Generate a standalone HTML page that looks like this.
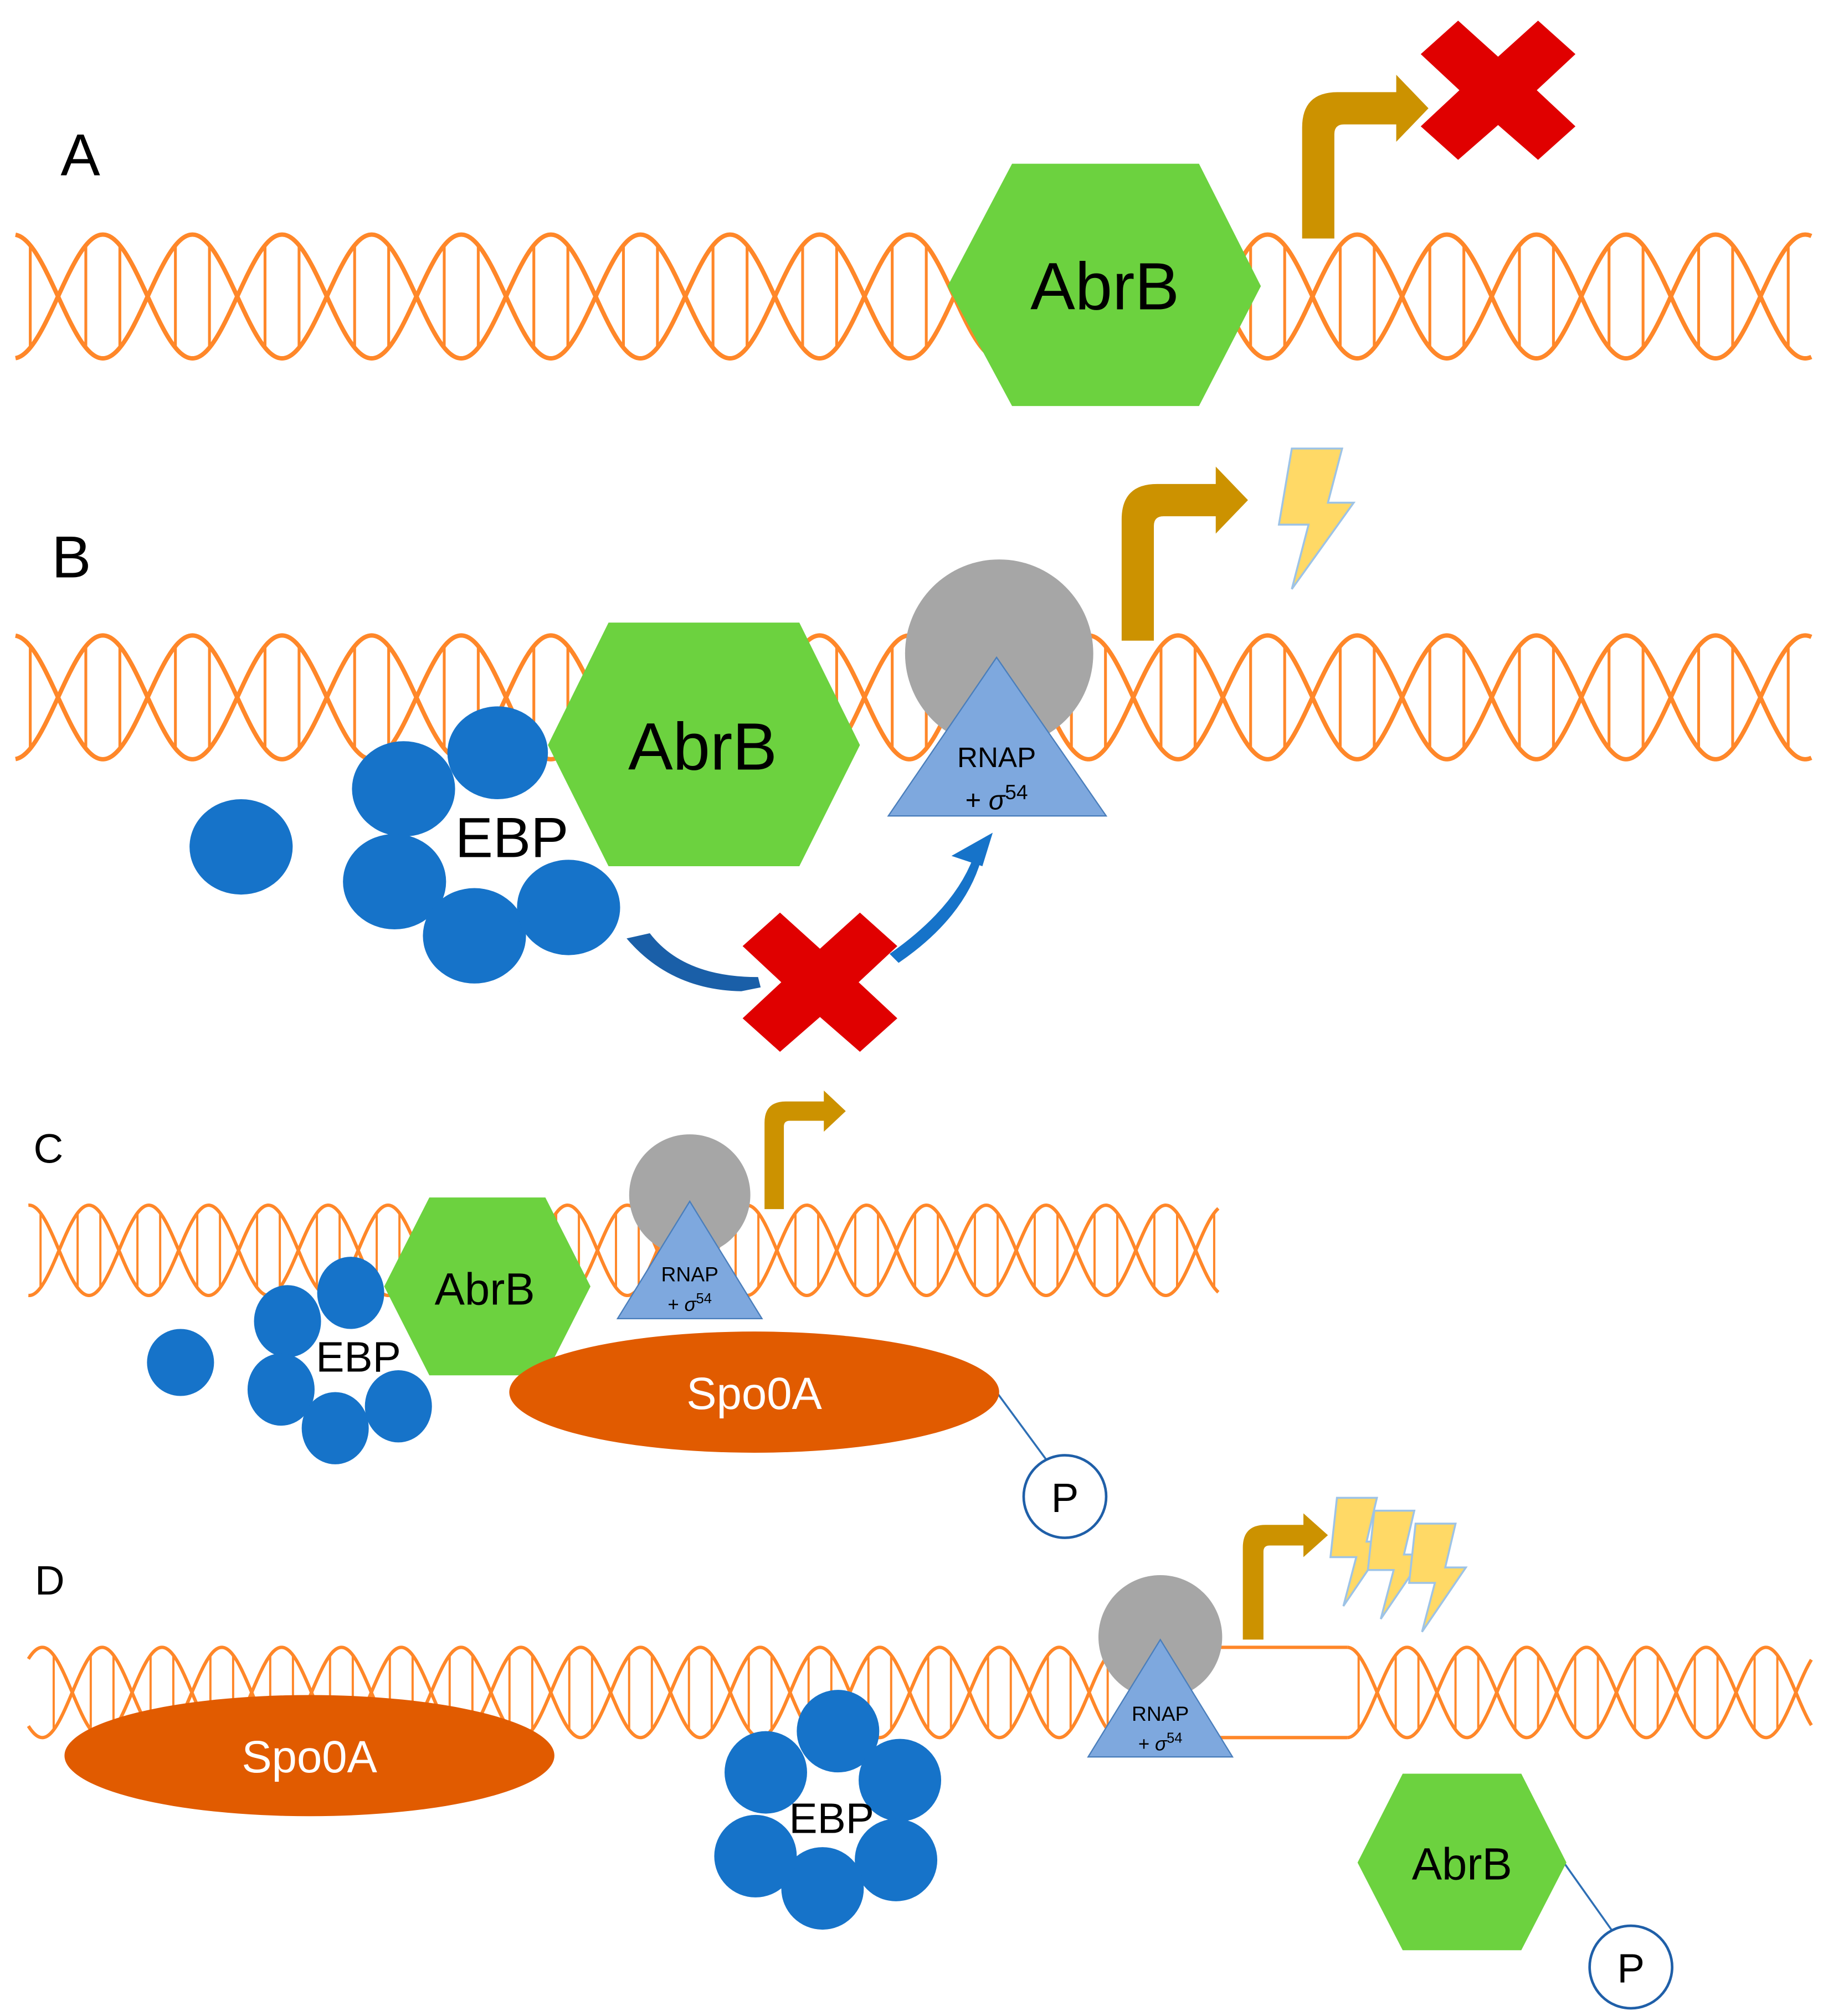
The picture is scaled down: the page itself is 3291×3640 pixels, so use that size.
<!DOCTYPE html>
<html><head><meta charset="utf-8"><style>
html,body{margin:0;padding:0;background:#fff;}
svg{display:block;}
text{font-family:"Liberation Sans",sans-serif;}
</style></head><body>
<svg id="s" width="3291" height="3640" viewBox="0 0 1414 1564" xmlns="http://www.w3.org/2000/svg">
<rect width="1414" height="1564" fill="#fff"/>
<g id="dna" fill="none" stroke="#ff8729"></g>

<!-- Panel A -->
<text x="47" y="136" font-size="46">A</text>
<polygon points="735,222 785,127 930,127 978,222 930,315 785,315" fill="#6cd23f"/>
<text x="857" y="240" font-size="52" text-anchor="middle">AbrB</text>
<path id="arA" fill="#cc9200"/>
<polygon fill="#e00000" points="1162,44 1131,16 1102,42 1132,70 1102,98 1131,124 1162,97 1193,124 1222,98 1192,70 1222,42 1193,16"/>

<!-- Panel B -->
<text x="40" y="448" font-size="46">B</text>
<ellipse cx="187" cy="657" rx="40" ry="37" fill="#1673c9"/>
<ellipse cx="386" cy="584" rx="39" ry="36" fill="#1673c9"/>
<ellipse cx="313" cy="612" rx="40" ry="37" fill="#1673c9"/>
<ellipse cx="306" cy="684" rx="40" ry="37" fill="#1673c9"/>
<ellipse cx="368" cy="726" rx="40" ry="37" fill="#1673c9"/>
<ellipse cx="441" cy="704" rx="40" ry="37" fill="#1673c9"/>
<text x="397" y="665" font-size="44" text-anchor="middle">EBP</text>
<polygon points="425,578 472,483 620,483 667,578 620,672 472,672" fill="#6cd23f"/>
<text x="545" y="597" font-size="52" text-anchor="middle">AbrB</text>
<circle cx="775" cy="507" r="73" fill="#a6a6a6"/>
<polygon points="689,633 773,510 858,633" fill="#7ea8de" stroke="#4a7ebb" stroke-width="1"/>
<text x="773" y="595" font-size="22" text-anchor="middle">RNAP</text>
<text x="773" y="628" font-size="21" text-anchor="middle" font-family="Liberation Serif">+ <tspan font-style="italic">σ</tspan><tspan dy="-8" font-size="16">54</tspan></text>
<path id="arB" fill="#cc9200"/>
<path d="M486,728 Q520,768 575,769 L590,766 L588,758 Q530,758 504,724 Z" fill="#1a5fa8"/>
<path d="M690,740 Q740,705 755,665 L761,667 Q748,712 697,747 Z" fill="#1673c9"/>
<polygon points="770,646 738,664 762,672" fill="#1673c9"/>
<polygon fill="#e00000" points="636,736 605,708 576,734 606,762 576,790 605,816 636,789 667,816 696,790 666,762 696,734 667,708"/>
<polygon fill="#ffd966" stroke="#9dc3e6" stroke-width="1.5" points="1002,348 1041,348 1030,390 1050,390 1002,457 1015,407 992,407"/>

<!-- Panel C -->
<text x="26" y="902" font-size="32">C</text>
<circle cx="140" cy="1057" r="26" fill="#1673c9"/>
<ellipse cx="272" cy="1003" rx="26" ry="28" fill="#1673c9"/>
<ellipse cx="223" cy="1025" rx="26" ry="28" fill="#1673c9"/>
<ellipse cx="218" cy="1078" rx="26" ry="28" fill="#1673c9"/>
<ellipse cx="260" cy="1108" rx="26" ry="28" fill="#1673c9"/>
<ellipse cx="309" cy="1091" rx="26" ry="28" fill="#1673c9"/>
<text x="278" y="1064" font-size="33" text-anchor="middle">EBP</text>
<polygon points="298,998 333,929 423,929 458,998 423,1067 333,1067" fill="#6cd23f"/>
<text x="376" y="1012" font-size="35" text-anchor="middle">AbrB</text>
<line x1="773" y1="1080" x2="812" y2="1133" stroke="#2e6fb5" stroke-width="1.5"/>
<circle cx="826" cy="1161" r="32" fill="#fff" stroke="#1f5fa8" stroke-width="2"/>
<text x="826" y="1173" font-size="32" text-anchor="middle">P</text>
<ellipse cx="585" cy="1080" rx="190" ry="47" fill="#e15b00"/>
<text x="585" y="1093" font-size="35" fill="#fff" text-anchor="middle">Spo0A</text>
<circle cx="535" cy="927" r="47" fill="#a6a6a6"/>
<polygon points="479,1023 535,932 591,1023" fill="#7ea8de" stroke="#4a7ebb" stroke-width="1"/>
<text x="535" y="994" font-size="16" text-anchor="middle">RNAP</text>
<text x="535" y="1017" font-size="15" text-anchor="middle" font-family="Liberation Serif">+ <tspan font-style="italic">σ</tspan><tspan dy="-6" font-size="11">54</tspan></text>
<path id="arC" fill="#cc9200"/>

<!-- Panel D -->
<text x="27" y="1237" font-size="32">D</text>
<ellipse cx="240" cy="1362" rx="190" ry="47" fill="#e15b00"/>
<text x="240" y="1375" font-size="35" fill="#fff" text-anchor="middle">Spo0A</text>
<circle cx="650" cy="1343" r="32" fill="#1673c9"/>
<circle cx="698" cy="1381" r="32" fill="#1673c9"/>
<circle cx="695" cy="1443" r="32" fill="#1673c9"/>
<circle cx="638" cy="1465" r="32" fill="#1673c9"/>
<circle cx="586" cy="1440" r="32" fill="#1673c9"/>
<circle cx="594" cy="1375" r="32" fill="#1673c9"/>
<text x="645" y="1422" font-size="33" text-anchor="middle">EBP</text>
<circle cx="900" cy="1270" r="48" fill="#a6a6a6"/>
<polygon points="844,1363 900,1272 956,1363" fill="#7ea8de" stroke="#4a7ebb" stroke-width="1"/>
<text x="900" y="1335" font-size="16" text-anchor="middle">RNAP</text>
<text x="900" y="1358" font-size="15" text-anchor="middle" font-family="Liberation Serif">+ <tspan font-style="italic">σ</tspan><tspan dy="-6" font-size="11">54</tspan></text>
<path id="arD" fill="#cc9200"/>
<g fill="#ffd966" stroke="#9dc3e6" stroke-width="1.5">
<polygon points="1037,1162 1068,1162 1060,1196 1076,1196 1042,1246 1052,1208 1032,1208"/>
<polygon points="1066,1172 1097,1172 1089,1206 1105,1206 1071,1256 1081,1218 1061,1218"/>
<polygon points="1098,1182 1129,1182 1121,1216 1137,1216 1103,1266 1113,1228 1093,1228"/>
</g>
<line x1="1213" y1="1445" x2="1252" y2="1500" stroke="#2e6fb5" stroke-width="1.5"/>
<circle cx="1265" cy="1526" r="32" fill="#fff" stroke="#1f5fa8" stroke-width="2"/>
<text x="1265" y="1538" font-size="32" text-anchor="middle">P</text>
<polygon points="1053,1445 1088,1376 1180,1376 1215,1445 1180,1513 1088,1513" fill="#6cd23f"/>
<text x="1134" y="1458" font-size="35" text-anchor="middle">AbrB</text>
</svg>
<script>
(function(){
var g=document.getElementById('dna');var NS='http://www.w3.org/2000/svg';
function add(d,w){var p=document.createElementNS(NS,'path');p.setAttribute('d',d);p.setAttribute('stroke-width',w);g.appendChild(p);}
function helix(x1,x2,cy,A,s,x0,sw,rw){
  var d1='',d2='';
  for(var x=x1;x<=x2+0.01;x+=0.5){
    var v=A*Math.sin(Math.PI*(x-x0)/s);
    d1+=(x==x1?'M':'L')+x.toFixed(2)+','+(cy-v).toFixed(2);
    d2+=(x==x1?'M':'L')+x.toFixed(2)+','+(cy+v).toFixed(2);
  }
  add(d1,sw);add(d2,sw);
  var r='';
  var k0=Math.floor((x1-x0)/s)-1;
  for(var k=k0;x0+k*s<x2;k++){
    var a=x0+k*s;
    [0.31,0.69].forEach(function(f){
      var x=a+f*s; if(x<x1+3||x>x2-3)return;
      var v=Math.abs(A*Math.sin(Math.PI*(x-x0)/s));
      r+='M'+x.toFixed(2)+','+(cy-v).toFixed(2)+'V'+(cy+v).toFixed(2);
    });
  }
  add(r,rw);
}
helix(12,1405,230,48,69.5,45,3.4,2.2);
helix(12,1405,541,48,69.5,45,3.4,2.2);
helix(22,945,970,35,46.4,45.8,2.6,1.7);
var sD=46.4;
helix(22,868,1313,35,sD,868-sD*0.5-sD*17,2.6,1.7);
helix(1045,1405,1313,35,sD,1045-sD*0.5,2.6,1.7);
add('M868,1278 H1045 M868,1348 H1045',2.6);
function bent(id,x0,bottom,yc,w,tip,hl,hh){
  var R=w*1.1,ri=w*0.3,top=yc-w/2,bot=yc+w/2;
  var d='M'+x0+','+bottom+'V'+(top+R)+'Q'+x0+','+top+' '+(x0+R)+','+top+'H'+(tip-hl)+'V'+(yc-hh)+'L'+tip+','+yc+'L'+(tip-hl)+','+(yc+hh)+'V'+bot+'H'+(x0+w+ri)+'Q'+(x0+w)+','+bot+' '+(x0+w)+','+(bot+ri)+'V'+bottom+'Z';
  document.getElementById(id).setAttribute('d',d);
}
bent('arA',1010,185,84,25,1108,25,26);
bent('arB',870,497,388,25,968,25,26);
bent('arC',593,938,862,15,656,17,16);
bent('arD',964,1272,1191,16,1030,19,17);
})();
</script>
</body></html>
